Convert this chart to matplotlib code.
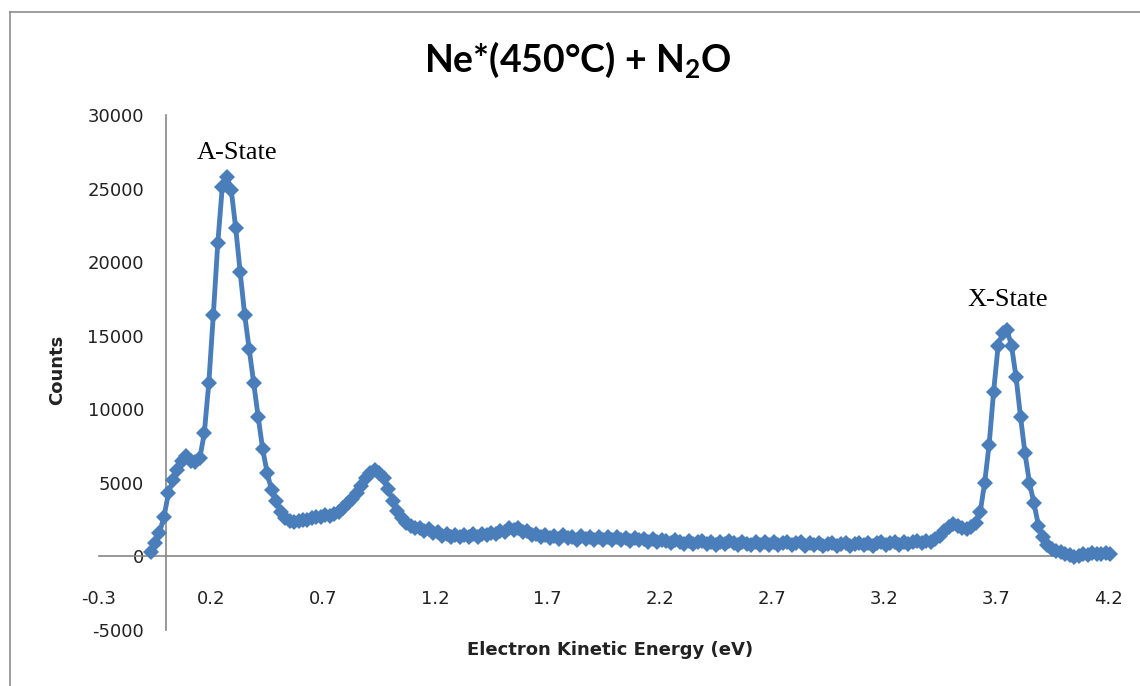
import matplotlib
matplotlib.use("Agg")
import matplotlib.pyplot as plt
from matplotlib.lines import Line2D

# --- DATOS ---
# energia cinetica del electron (eV), paso de 0.02
energia = [
    -0.07, -0.05, -0.03, -0.01, 0.01, 0.03, 0.05, 0.07, 0.09, 0.11,
    0.13, 0.15, 0.17, 0.19, 0.21, 0.23, 0.25, 0.27, 0.29, 0.31,
    0.33, 0.35, 0.37, 0.39, 0.41, 0.43, 0.45, 0.47, 0.49, 0.51,
    0.53, 0.55, 0.57, 0.59, 0.61, 0.63, 0.65, 0.67, 0.69, 0.71,
    0.73, 0.75, 0.77, 0.79, 0.81, 0.83, 0.85, 0.87, 0.89, 0.91,
    0.93, 0.95, 0.97, 0.99, 1.01, 1.03, 1.05, 1.07, 1.09, 1.11,
    1.13, 1.15, 1.17, 1.19, 1.21, 1.23, 1.25, 1.27, 1.29, 1.31,
    1.33, 1.35, 1.37, 1.39, 1.41, 1.43, 1.45, 1.47, 1.49, 1.51,
    1.53, 1.55, 1.57, 1.59, 1.61, 1.63, 1.65, 1.67, 1.69, 1.71,
    1.73, 1.75, 1.77, 1.79, 1.81, 1.83, 1.85, 1.87, 1.89, 1.91,
    1.93, 1.95, 1.97, 1.99, 2.01, 2.03, 2.05, 2.07, 2.09, 2.11,
    2.13, 2.15, 2.17, 2.19, 2.21, 2.23, 2.25, 2.27, 2.29, 2.31,
    2.33, 2.35, 2.37, 2.39, 2.41, 2.43, 2.45, 2.47, 2.49, 2.51,
    2.53, 2.55, 2.57, 2.59, 2.61, 2.63, 2.65, 2.67, 2.69, 2.71,
    2.73, 2.75, 2.77, 2.79, 2.81, 2.83, 2.85, 2.87, 2.89, 2.91,
    2.93, 2.95, 2.97, 2.99, 3.01, 3.03, 3.05, 3.07, 3.09, 3.11,
    3.13, 3.15, 3.17, 3.19, 3.21, 3.23, 3.25, 3.27, 3.29, 3.31,
    3.33, 3.35, 3.37, 3.39, 3.41, 3.43, 3.45, 3.47, 3.49, 3.51,
    3.53, 3.55, 3.57, 3.59, 3.61, 3.63, 3.65, 3.67, 3.69, 3.71,
    3.73, 3.75, 3.77, 3.79, 3.81, 3.83, 3.85, 3.87, 3.89, 3.91,
    3.93, 3.95, 3.97, 3.99, 4.01, 4.03, 4.05, 4.07, 4.09, 4.11,
    4.13, 4.15, 4.17, 4.19, 4.21,
]

# cuentas
cuentas = [
    270, 900, 1600, 2700, 4300, 5200, 5900, 6500, 6800, 6500,
    6400, 6700, 8400, 11800, 16400, 21300, 25100, 25800, 24900, 22300,
    19300, 16400, 14100, 11800, 9500, 7300, 5700, 4500, 3800, 3000,
    2600, 2400, 2350, 2400, 2500, 2450, 2600, 2700, 2650, 2800,
    2750, 2900, 3000, 3300, 3600, 3900, 4300, 4800, 5300, 5700,
    5900, 5700, 5300, 4600, 3800, 3100, 2600, 2300, 2100, 1950,
    1900, 1700, 1850, 1600, 1650, 1400, 1550, 1350, 1450, 1300,
    1450, 1300, 1500, 1350, 1550, 1450, 1600, 1500, 1750, 1650,
    1900, 1800, 1950, 1650, 1700, 1450, 1550, 1300, 1450, 1250,
    1400, 1200, 1450, 1250, 1350, 1150, 1400, 1200, 1350, 1150,
    1350, 1150, 1300, 1100, 1300, 1150, 1250, 1050, 1250, 1100,
    1200, 1000, 1200, 950, 1150, 1050, 900, 1100, 1000, 850,
    1050, 850, 1000, 1050, 850, 1000, 800, 1000, 850, 1050,
    900, 800, 1000, 850, 800, 950, 750, 950, 800, 950,
    750, 900, 950, 750, 900, 950, 700, 900, 750, 900,
    700, 850, 900, 700, 850, 900, 700, 850, 900, 750,
    900, 700, 900, 950, 750, 900, 950, 800, 1000, 850,
    1000, 1050, 900, 1050, 1000, 1200, 1400, 1700, 2000, 2200,
    2100, 1900, 1850, 2000, 2300, 3000, 5000, 7600, 11200, 14300,
    15200, 15400, 14300, 12200, 9500, 7000, 5000, 3600, 2100, 1300,
    800, 500, 350, 300, 200, 100, -50, 0, 150, 100,
    250, 200, 150, 250, 150,
]

ticks_x = [-0.3, 0.2, 0.7, 1.2, 1.7, 2.2, 2.7, 3.2, 3.7, 4.2]
etiquetas_x = ["-0.3", "0.2", "0.7", "1.2", "1.7", "2.2", "2.7", "3.2", "3.7", "4.2"]
ticks_y = [-5000, 0, 5000, 10000, 15000, 20000, 25000, 30000]
etiquetas_y = ["-5000", "0", "5000", "10000", "15000", "20000", "25000", "30000"]

titulo = "Ne*(450°C) + N$_2$O"
etiqueta_x = "Electron Kinetic Energy (eV)"
etiqueta_y = "Counts"
anotaciones = [("A-State", 0.317, 27400), ("X-State", 3.755, 17450)]

# --- GRAFICA ---
plt.rcParams["mathtext.default"] = "regular"
azul = "#4a7ebb"
gris = "#868686"

fig = plt.figure(figsize=(11.4, 6.86), dpi=100)
ax = fig.add_axes([0.0868, 0.0816, 0.8851, 0.7508])

ax.plot(energia, cuentas, color=azul, lw=3.5, marker="D", markersize=8,
        markeredgewidth=0, zorder=3, clip_on=False)

ax.set_xlim(-0.3, 4.2)
ax.set_ylim(-5000, 30000)

# ejes cruzando en cero, estilo Excel
ax.spines["left"].set_position(("data", 0))
ax.spines["bottom"].set_position(("data", 0))
ax.spines["top"].set_visible(False)
ax.spines["right"].set_visible(False)
for s in ("left", "bottom"):
    ax.spines[s].set_color(gris)
    ax.spines[s].set_linewidth(1.2)

ax.set_xticks(ticks_x)
ax.set_xticklabels(etiquetas_x)
ax.set_yticks(ticks_y)
ax.set_yticklabels(etiquetas_y)
ax.tick_params(axis="x", length=0, pad=24, labelsize=13, labelcolor="#222222")
ax.tick_params(axis="y", length=0, pad=16, labelsize=13, labelcolor="#222222")

fig.text(578 / 1140, 1 - 60 / 686, titulo, ha="center", va="center",
         fontsize=27, fontfamily="Lato", fontweight="bold")
fig.text(610 / 1140, 1 - 650 / 686, etiqueta_x, ha="center", va="center",
         fontsize=13, fontweight="bold", color="#222222")
fig.text(57 / 1140, 1 - 370 / 686, etiqueta_y, ha="center", va="center",
         fontsize=13, fontweight="bold", rotation=90, color="#222222")

for texto, xa, ya in anotaciones:
    ax.text(xa, ya, texto, ha="center", va="center",
            fontsize=19, fontfamily="Liberation Serif")

# borde del grafico (solo se ven izquierda y arriba)
fig.add_artist(Line2D([10 / 1140, 10 / 1140], [0, 1 - 12 / 686],
                      color="#8c8c8c", lw=1.2, transform=fig.transFigure))
fig.add_artist(Line2D([10 / 1140, 1], [1 - 12 / 686, 1 - 12 / 686],
                      color="#8c8c8c", lw=1.2, transform=fig.transFigure))

fig.savefig("out.png", dpi=100)
